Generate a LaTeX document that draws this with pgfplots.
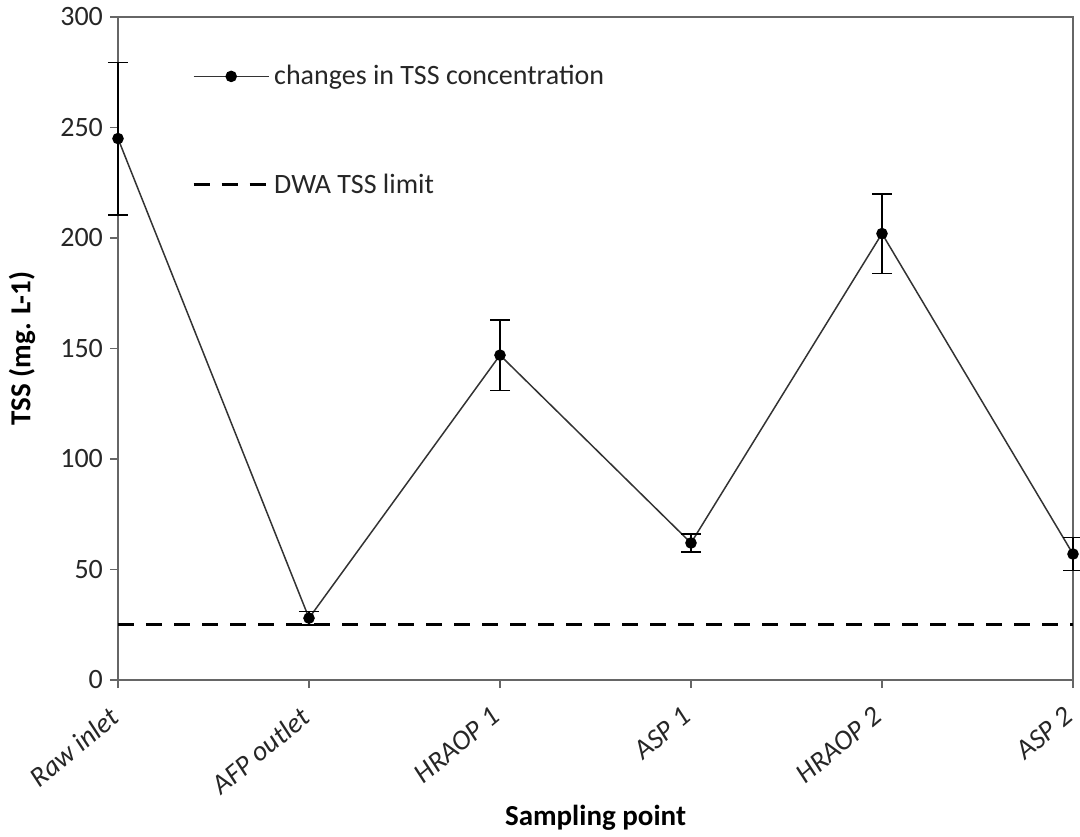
\documentclass[border=0pt]{standalone}
\usepackage{fontspec}
\setmainfont{Carlito}
\usepackage{pgfplots}
\pgfplotsset{compat=1.18}
\begin{document}
\begin{tikzpicture}
\path[use as bounding box] (0,0) rectangle (540pt,418pt);
\begin{axis}[
  at={(59pt,78pt)}, anchor=south west,
  scale only axis, width=477.5pt, height=331.5pt,
  xmin=0, xmax=5, ymin=0, ymax=300,
  clip=false,
  xtick={0,1,2,3,4,5},
  xticklabels={Raw inlet, AFP outlet, HRAOP 1, ASP 1, HRAOP 2, ASP 2},
  ytick={0,50,100,150,200,250,300},
  tick align=outside, tick pos=left, major tick length=4pt,
  every tick/.style={black!60, line width=0.6pt},
  axis line style={black!60, line width=0.6pt},
  /pgf/number format/assume math mode=true,
  tick label style={font=\fontsize{14}{16}\selectfont, black!85},
  x tick label style={rotate=40, anchor=north east, xshift=-6pt, yshift=0pt, font=\fontsize{14}{16}\selectfont\itshape},
  xlabel={\textbf{Sampling point}},
  ylabel={\textbf{TSS (mg. L-1)}},
  xlabel style={at={(axis description cs:0.5,-0.208)}, anchor=center, font=\fontsize{14.5}{16}\selectfont},
  ylabel style={at={(axis description cs:-0.1005,0.5)}, anchor=center, font=\fontsize{14.5}{16}\selectfont},
  legend image code/.code={\draw[mark repeat=2,mark phase=2,#1] plot coordinates {(0pt,0pt) (18.75pt,0pt) (37.5pt,0pt)};},
  legend style={at={(axis description cs:0.071,0.94)}, anchor=north west, draw=none, fill=none,
    row sep=39pt, font=\fontsize{14}{16}\selectfont, text=black!85},
  legend cell align=left,
]
\addplot[black!80, line width=0.75pt, mark=*, mark size=2.5pt, mark options={black, fill=black, solid},
  error bars/.cd, y dir=both, y explicit,
  error bar style={black, line width=0.75pt},
  error mark options={rotate=90, mark size=5pt, black, line width=0.75pt}]
  table[x=x, y=y, y error=e] {
x y e
0 245 34.5
1 28 3
2 147 16
3 62 4
4 202 18
5 57 7.5
};
\addlegendentry{changes in TSS concentration}
\addplot[black, line width=1.5pt, dash pattern=on 8pt off 6pt, forget plot] coordinates {(0,25) (5,25)};
\addlegendimage{black, line width=1.5pt, dash pattern=on 8pt off 6pt}
\addlegendentry{DWA TSS limit}
\end{axis}
\end{tikzpicture}
\end{document}
